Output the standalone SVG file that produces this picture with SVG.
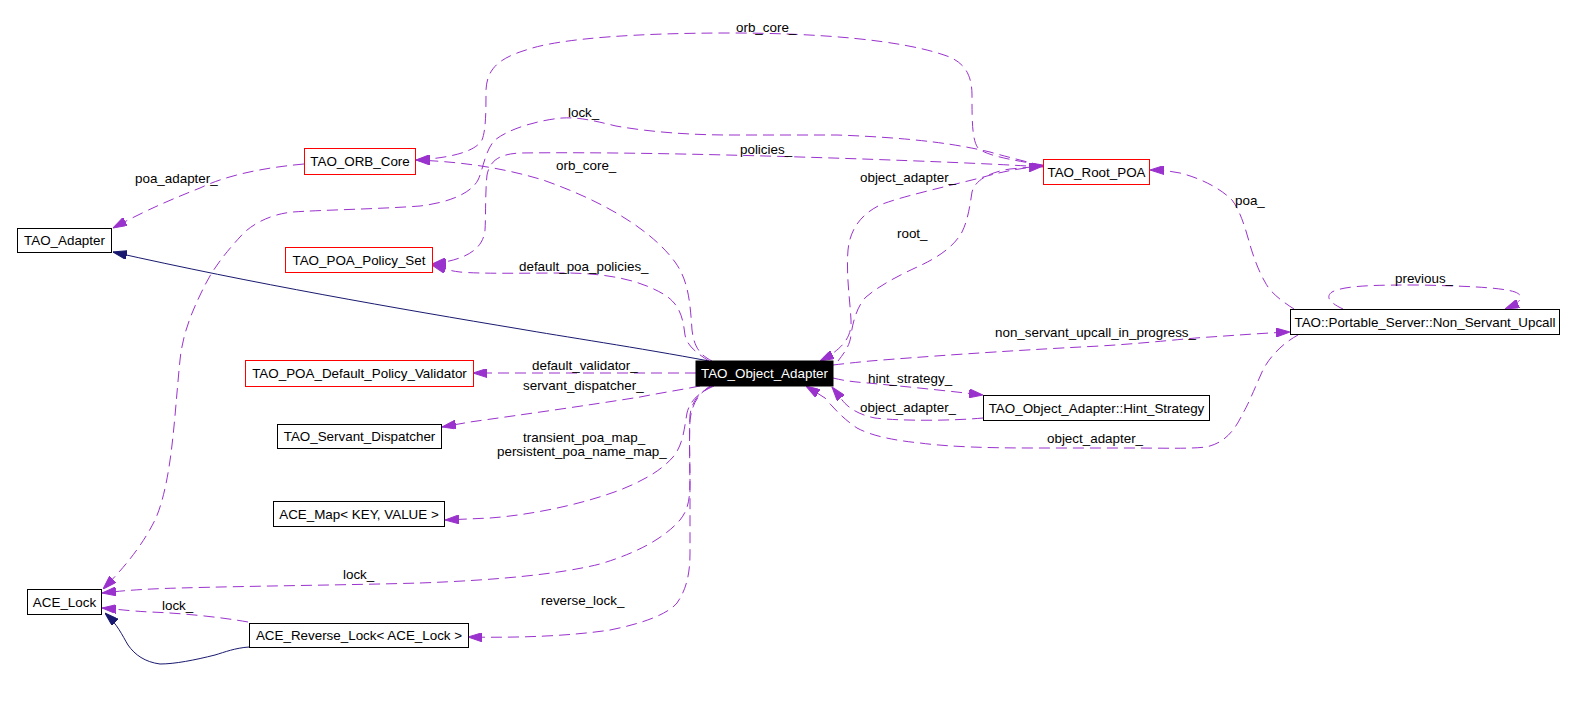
<svg xmlns="http://www.w3.org/2000/svg" width="1576" height="707" viewBox="0 0 1576 707">
<style>
text{font-family:"Liberation Sans",Arial,sans-serif;font-size:13.4px;fill:#000}
.n rect{fill:#fff;stroke:#000;stroke-width:1}
.n.red rect{stroke:#ff0000}
.n text{text-anchor:middle}
.n.main rect{fill:#000;stroke:#000}
.n.main text{fill:#fff}
.e{fill:none;stroke:#9a32cd;stroke-width:1;stroke-dasharray:11,6}
.i{fill:none;stroke:#191970;stroke-width:1}
</style>
<defs>
<marker id="ap" viewBox="0 0 14 9" refX="14" refY="4.5" markerWidth="14" markerHeight="9" markerUnits="userSpaceOnUse" orient="auto"><path d="M0,0 L14,4.5 L0,9 z" fill="#9a32cd" stroke="#9a32cd"/></marker>
<marker id="an" viewBox="0 0 14 9" refX="14" refY="4.5" markerWidth="14" markerHeight="9" markerUnits="userSpaceOnUse" orient="auto"><path d="M0,0 L14,4.5 L0,9 z" fill="#191970" stroke="#191970"/></marker>
</defs>
<rect width="1576" height="707" fill="#fff"/>
<g id="connectors">
<path class="e" marker-end="url(#ap)" d="M304,164 C260,168 225,176 200,188 C175,198 150,208 113,228"/>
<path class="i" marker-end="url(#an)" d="M709,361 C640,348 560,336 520,329 C400,309 250,283 113,252"/>
<path class="e" marker-end="url(#ap)" d="M1043,165 C1010,160 985,155 978,148 C972,140 972,120 972,95 C972,70 960,60 944,55 C900,40 820,33 730,33 C640,33 560,38 526,50 C500,58 487,68 486,90 C486,110 486,130 482,140 C475,152 450,158 416,160"/>
<path class="e" marker-end="url(#ap)" d="M712,361 C700,355 694,347 692,330 C690,300 688,280 675,262 C650,228 600,200 543,180 C510,170 470,162 416,160"/>
<path class="e" marker-end="url(#ap)" d="M709,361 C698,354 687,346 685,335 C683,318 680,305 665,295 C640,280 610,274 570,273 C530,273 480,274 460,272 C450,271 442,268 432,265"/>
<path class="e" marker-end="url(#ap)" d="M1043,167 C1000,164 900,160 800,157 C700,154 600,152 520,153 C500,154 490,160 487,175 C485,195 486,215 485,230 C483,250 465,260 432,264"/>
<path class="e" marker-end="url(#ap)" d="M1043,166 C1020,160 1000,155 990,152 C960,145 920,138 837,135 L730,135 C690,135 650,132 616,126 C595,121 580,117 562,118 C540,120 510,128 495,140 C485,150 483,170 478,180 C470,195 445,203 420,206 C380,209 320,210 293,212 C270,214 250,225 240,237 C230,248 215,265 205,285 C195,305 183,330 180,360 C177,390 175,420 172,445 C168,480 162,505 155,520 C145,540 130,562 103,589"/>
<path class="e" marker-end="url(#ap)" d="M838,361 C845,352 850,345 851,335 C853,320 858,305 866,297 C880,285 900,275 915,268 C940,257 955,245 962,232 C968,220 970,205 972,192 C975,180 990,172 1010,169 L1043,166"/>
<path class="e" marker-end="url(#ap)" d="M1043,166 C1020,168 1000,172 980,178 C940,188 900,197 880,205 C860,215 850,230 848,250 C846,275 850,300 851,320 C852,335 845,348 820,361"/>
<path class="e" marker-end="url(#ap)" d="M696,373 L473,373"/>
<path class="e" marker-end="url(#ap)" d="M700,386 C680,390 660,393 640,397 C590,405 520,415 470,422 L442,427"/>
<path class="e" marker-end="url(#ap)" d="M714,386 C700,392 690,400 687,413 C684,430 683,445 673,457 C660,472 640,482 620,490 C580,505 530,515 490,518 L445,520"/>
<path class="e" marker-end="url(#ap)" d="M712,386 C700,392 692,400 690,415 C689,440 690,460 690,480 C690,500 688,510 680,520 C665,537 640,552 600,564 C560,574 500,580 420,583 C350,585 250,586 180,588 C140,589 120,591 102,593"/>
<path class="e" marker-end="url(#ap)" d="M710,386 C697,395 692,405 690,420 C689,440 690,470 690,500 L690,553 C690,575 686,590 677,603 C667,615 640,624 610,630 C570,636 520,638 468,637"/>
<path class="e" marker-end="url(#ap)" d="M248,622 C220,617 180,613 150,612 C130,611 115,609 102,608"/>
<path class="i" marker-end="url(#an)" d="M249,647 C235,648 225,652 215,655 C195,660 175,664 160,664 C145,662 135,655 128,645 C122,635 118,625 105,613"/>
<path class="e" marker-end="url(#ap)" d="M833,365 C850,363 860,362 870,361 C920,357 1000,351 1100,346 C1150,343 1190,338 1210,337 C1240,335 1265,333 1290,332"/>
<path class="e" marker-end="url(#ap)" d="M833,378 C845,381 855,382 868,383 C900,386 940,390 983,395"/>
<path class="e" marker-end="url(#ap)" d="M983,418 C950,421 900,421 875,418 C855,414 845,405 840,397 L832,387"/>
<path class="e" marker-end="url(#ap)" d="M1298,335 C1285,342 1270,355 1262,372 C1254,390 1248,405 1243,413 C1235,430 1225,443 1206,447 C1190,449 1160,448 1133,448 L1033,448 C990,448 950,447 920,443 C890,440 870,435 857,428 C845,420 835,410 825,398 L806,386"/>
<path class="e" marker-end="url(#ap)" d="M1294,309 C1280,300 1270,292 1265,282 C1258,270 1253,255 1250,245 C1246,230 1240,210 1232,200 C1220,188 1200,178 1180,173 C1170,171 1160,170 1150,170"/>
<path class="e" marker-end="url(#ap)" d="M1343,309 C1330,303 1325,297 1332,292 C1345,285 1380,285 1420,285 C1460,286 1500,287 1515,292 C1525,296 1522,302 1505,309"/>
<text x="135" y="183">poa_adapter_</text>
<text x="736" y="32">orb_core_</text>
<text x="568" y="117">lock_</text>
<text x="740" y="154">policies_</text>
<text x="556" y="170">orb_core_</text>
<text x="860" y="182">object_adapter_</text>
<text x="897" y="238">root_</text>
<text x="519" y="271">default_poa_policies_</text>
<text x="532" y="370">default_validator_</text>
<text x="523" y="390">servant_dispatcher_</text>
<text x="523" y="442">transient_poa_map_</text>
<text x="497" y="456">persistent_poa_name_map_</text>
<text x="343" y="579">lock_</text>
<text x="162" y="610">lock_</text>
<text x="541" y="605">reverse_lock_</text>
<text x="868" y="383">hint_strategy_</text>
<text x="860" y="412">object_adapter_</text>
<text x="1047" y="443">object_adapter_</text>
<text x="995" y="337">non_servant_upcall_in_progress_</text>
<text x="1235" y="205">poa_</text>
<text x="1395" y="283">previous_</text>
</g>
<g id="TAO_Adapter" class="n"><rect x="17.5" y="228.5" width="94" height="24"/><text x="64.5" y="245.2">TAO_Adapter</text></g>
<g id="TAO_ORB_Core" class="n red"><rect x="304.5" y="148.5" width="111" height="26"/><text x="360" y="166.2">TAO_ORB_Core</text></g>
<g id="TAO_POA_Policy_Set" class="n red"><rect x="285.5" y="247.5" width="147" height="25"/><text x="359" y="264.7">TAO_POA_Policy_Set</text></g>
<g id="TAO_Root_POA" class="n red"><rect x="1043.5" y="159.5" width="106" height="25"/><text x="1096.5" y="176.7">TAO_Root_POA</text></g>
<g id="TAO_POA_Default_Policy_Validator" class="n red"><rect x="245.5" y="360.5" width="228" height="26"/><text x="359.5" y="378.2">TAO_POA_Default_Policy_Validator</text></g>
<g id="TAO_Object_Adapter" class="n main"><rect x="696" y="361" width="137" height="25"/><text x="764.5" y="378.2">TAO_Object_Adapter</text></g>
<g id="Non_Servant_Upcall" class="n"><rect x="1290.5" y="309.5" width="269" height="25"/><text x="1425" y="326.7">TAO::Portable_Server::Non_Servant_Upcall</text></g>
<g id="Hint_Strategy" class="n"><rect x="983.5" y="395.5" width="226" height="25"/><text x="1096.5" y="412.7">TAO_Object_Adapter::Hint_Strategy</text></g>
<g id="TAO_Servant_Dispatcher" class="n"><rect x="277.5" y="424.5" width="164" height="24"/><text x="359.5" y="441.2">TAO_Servant_Dispatcher</text></g>
<g id="ACE_Map" class="n"><rect x="273.5" y="501.5" width="171" height="25"/><text x="359" y="518.7">ACE_Map&lt; KEY, VALUE &gt;</text></g>
<g id="ACE_Lock" class="n"><rect x="27.5" y="589.5" width="74" height="25"/><text x="64.5" y="606.7">ACE_Lock</text></g>
<g id="ACE_Reverse_Lock" class="n"><rect x="249.5" y="623.5" width="219" height="24"/><text x="359" y="640.2">ACE_Reverse_Lock&lt; ACE_Lock &gt;</text></g>
</svg>
